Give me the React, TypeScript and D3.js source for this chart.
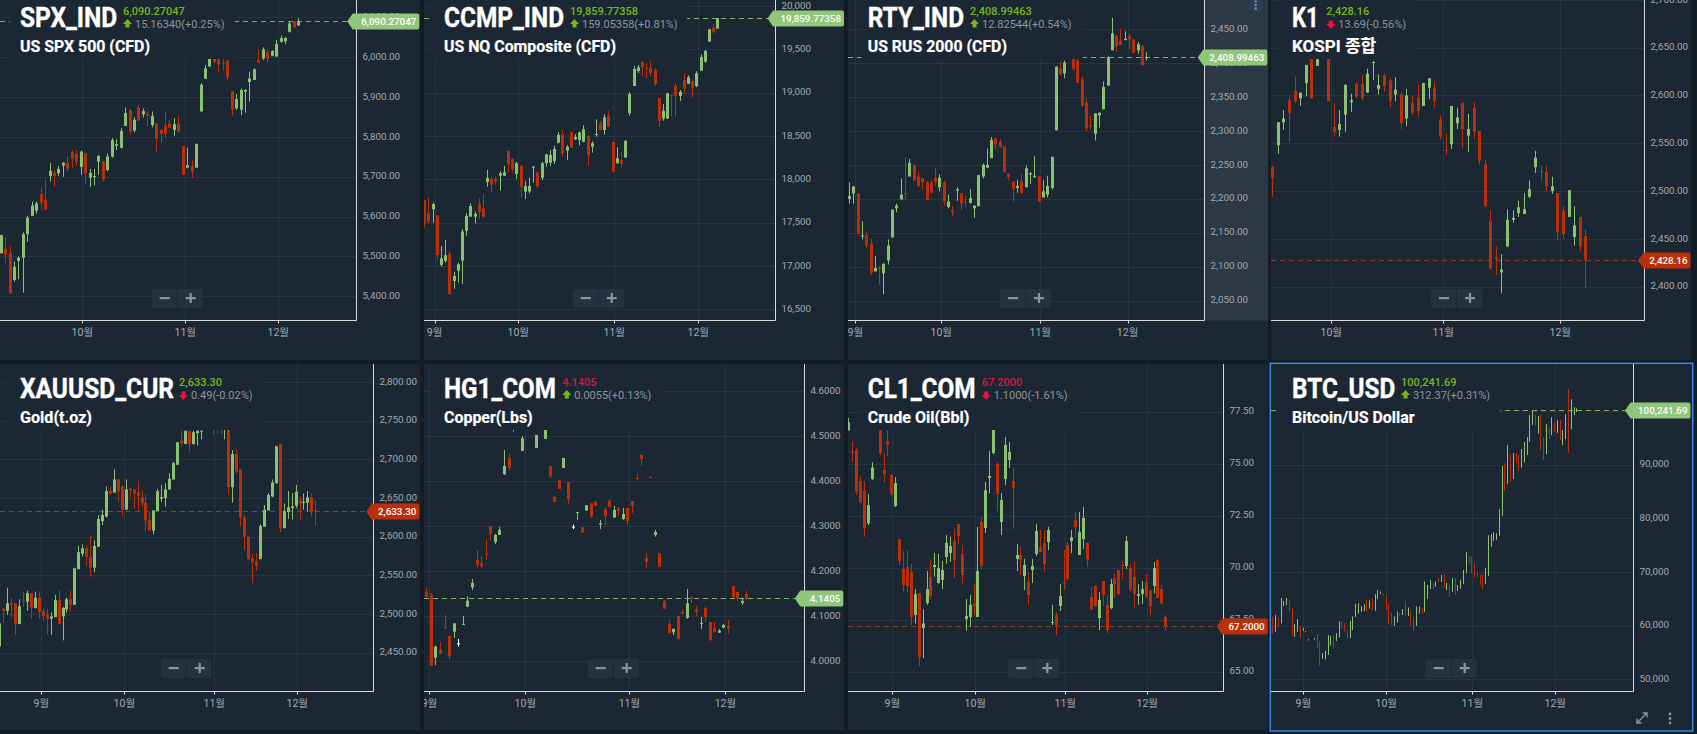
import React from "react";
import * as d3 from "d3";

type C = [number, number, number, number] | null;

// each candle: [open, high, low, close]
const spxCandles: C[] = [
[5508,5554,5508,5554],[5520,5548,5483,5504],[5508,5525,5406,5407],[5441,5487,5437,5474],[5489,5500,5443,5497],[5497,5561,5409,5556],[5556,5602,5537,5597],[5602,5638,5602,5628],[5615,5638,5607,5633],[5657,5673,5615,5635],
[5642,5692,5617,5617],[5702,5735,5688,5715],[5710,5717,5675,5702],[5709,5727,5702,5720],[5728,5737,5700,5735],[5735,5751,5713,5721],[5762,5767,5723,5746],[5758,5766,5728,5738],[5725,5766,5705,5763],[5759,5761,5682,5709],
[5698,5720,5675,5710],[5700,5720,5679,5702],[5738,5755,5705,5752],[5739,5740,5688,5694],[5717,5759,5715,5751],[5751,5797,5748,5792],[5778,5794,5767,5782],[5773,5822,5771,5815],[5828,5874,5828,5860],[5868,5869,5807,5813],
[5816,5849,5811,5843],[5874,5880,5841,5841],[5857,5872,5849,5865],[5858,5864,5826,5854],[5830,5864,5824,5853],[5834,5834,5762,5796],[5818,5818,5786,5808],[5828,5863,5799,5808],[5834,5843,5822,5823],[5818,5847,5802,5832],
[5833,5853,5812,5813],[5777,5777,5705,5705],[5723,5773,5721,5729],[5727,5742,5698,5713],[5723,5784,5723,5782],[5864,5935,5864,5931],[5946,5981,5946,5972],[5977,6012,5977,6005],[6000,6010,5985,5989],[6000,6010,5961,5982],
[5986,6005,5966,5984],[5992,5993,5943,5949],[5914,5916,5853,5868],[5872,5908,5868,5895],[5868,5922,5855,5918],[5914,5920,5861,5918],[5938,5964,5889,5947],[5943,5972,5943,5970],[5993,6021,5985,5987],[5997,6025,5993,6020],
[6013,6020,5987,5997],[6004,6018,6003,6016],[6002,6044,6002,6033],[6039,6054,6037,6048],[6040,6050,6033,6049],[6064,6090,6062,6085],[6090,6092,6073,6075],[6080,6098,6079,6090],
];

const ccmpCandles: C[] = [
[17762,17762,17442,17492],[17608,17792,17485,17512],[17654,17731,17500,17715],[17585,17588,17062,17127],[17012,17231,16992,17088],[17058,17300,17038,17123],[17138,17173,16669,16677],[16827,16935,16738,16885],[16946,17038,16808,17019],[17062,17423,16792,17396],
[17408,17608,17350,17577],[17569,17723,17569,17692],[17569,17627,17492,17600],[17712,17781,17546,17623],[17665,17831,17554,17569],[17969,18108,17915,18015],[18004,18031,17846,17938],[18004,18031,17935,17973],[18042,18092,17869,18069],[18042,18154,18038,18081],
[18327,18327,18077,18181],[18235,18242,18077,18115],[18062,18200,18004,18185],[18158,18165,17788,17908],[17858,17981,17773,17923],[17858,18019,17838,17923],[18138,18154,17962,18146],[18077,18088,17904,17915],[18019,18200,17992,18185],[18185,18288,18146,18288],
[18192,18338,18154,18281],[18212,18385,18177,18350],[18423,18546,18415,18512],[18519,18569,18262,18300],[18331,18396,18223,18373],[18546,18546,18365,18365],[18462,18519,18454,18488],[18454,18550,18392,18542],[18431,18623,18431,18577],[18500,18512,18158,18277],
[18377,18438,18308,18415],[18512,18692,18492,18523],[18646,18673,18565,18565],[18569,18750,18515,18715],[18731,18788,18608,18608],[18431,18431,18088,18088],[18185,18369,18181,18242],[18223,18315,18123,18177],[18250,18454,18250,18442],[18762,19004,18735,18985],
[19077,19308,19077,19273],[19250,19319,19227,19292],[19354,19365,19192,19292],[19285,19346,19169,19277],[19285,19365,19192,19227],[19262,19285,19077,19100],[18938,18938,18608,18677],[18700,18869,18677,18792],[18700,18992,18700,18992],[18973,18973,18723,18965],
[19077,19108,18723,18965],[18962,19031,18904,19008],[19146,19215,18985,19046],[19104,19200,19096,19177],[19131,19154,18942,19058],[19077,19246,19062,19223],[19254,19442,19254,19412],[19358,19492,19346,19481],[19588,19731,19589,19731],[19754,19792,19696,19696],[19738,19861,19738,19860],
];

const rtyCandles: C[] = [
[2200,2224,2193,2204],[2208,2219,2193,2218],[2208,2208,2146,2149],[2145,2167,2140,2146],[2147,2151,2127,2131],[2134,2141,2088,2091],[2093,2116,2093,2098],[2099,2101,2073,2097],[2090,2105,2059,2104],[2109,2140,2103,2131],
[2143,2184,2143,2184],[2186,2193,2180,2190],[2199,2230,2199,2206],[2208,2261,2199,2207],[2233,2259,2233,2253],[2250,2250,2227,2227],[2233,2240,2217,2219],[2230,2231,2214,2224],[2225,2226,2198,2198],[2224,2228,2208,2209],
[2231,2245,2219,2224],[2217,2236,2211,2231],[2224,2227,2189,2196],[2188,2206,2186,2196],[2183,2189,2174,2180],[2212,2217,2197,2214],[2208,2208,2183,2193],[2196,2204,2188,2195],[2194,2214,2193,2201],[2186,2190,2172,2190],
[2189,2235,2189,2235],[2233,2252,2230,2250],[2246,2274,2245,2250],[2260,2291,2260,2287],[2289,2290,2273,2280],[2284,2288,2276,2276],[2277,2277,2239,2239],[2237,2237,2227,2232],[2225,2226,2196,2214],[2216,2228,2209,2219],
[2226,2237,2208,2208],[2217,2249,2217,2245],[2236,2239,2222,2238],[2232,2263,2231,2234],[2233,2233,2196,2196],[2202,2228,2202,2211],[2206,2234,2202,2219],[2216,2262,2214,2262],[2301,2395,2301,2395],[2392,2403,2382,2384],
[2385,2404,2378,2401],null,[2406,2406,2390,2392],[2404,2409,2371,2371],[2376,2380,2336,2338],[2342,2347,2300,2304],[2308,2323,2303,2306],[2296,2326,2286,2326],[2323,2327,2305,2327],[2332,2373,2332,2365],
[2367,2410,2367,2409],[2419,2467,2419,2444],[2441,2442,2417,2425],[2433,2451,2427,2427],[2434,2447,2434,2436],[2440,2444,2420,2435],[2435,2436,2415,2415],[2419,2431,2414,2428],[2426,2426,2397,2397],[2408,2416,2404,2409],
];

const kospiCandles: C[] = [
[2525,2526.5,2494,2514],[2548,2572,2539,2572],[2572,2585,2564,2576],[2595,2599,2551,2582],[2605,2620,2592,2594],[2597,2603,2589,2603],[2613,2632,2599,2632],[2638,2640,2597,2597],[2631,2640,2631,2638],null,
[2638,2640,2594,2594],[2567,2592,2557,2562],[2564,2585,2557,2570],[2580,2612,2562,2611],[2593,2602,2583,2595],[2612,2614,2597,2599],[2612,2622,2595,2597],[2603,2628,2603,2623],[2634,2636,2616,2635],[2607,2622,2601,2611],
[2621,2623,2604,2610],[2616,2618,2588,2594],[2601,2619,2594,2606],[2601,2604,2565,2571],[2576,2607,2568,2600],[2592,2600,2580,2582],[2598,2612,2578,2584],[2589,2613,2589,2613],[2608,2618,2596,2618],[2608,2614,2587,2594],
[2575,2580,2554,2557],[2543,2560,2538,2542],[2549,2589,2544,2589],[2571,2587,2565,2577],[2592,2593,2545,2565],[2558,2581,2541,2565],[2587,2593,2555,2562],[2563,2563,2527,2532],[2528,2533,2483,2484],[2469,2480,2418,2419],
[2431,2442,2412,2429],[2415,2434,2393,2418],[2442,2481,2442,2470],[2470,2480,2467,2472],[2477,2490,2473,2483],[2476,2498,2476,2481],[2494,2511,2493,2502],[2525,2542,2519,2535],[2521,2527,2511,2520],[2520,2527,2499,2505],
[2500,2515,2497,2505],[2498,2498,2448,2457],[2480,2484,2450,2455],[2473,2501,2473,2501],[2452,2484,2443,2464],[2473,2473,2437,2442],[2453,2460,2399,2428.16],
];

const goldCandles: C[] = [
[2458,2497,2458,2488],[2507,2508,2488,2504],[2504,2534,2499,2514],[2514,2521,2496,2512],[2514,2514,2473,2487],[2487,2519,2487,2510],[2517,2529,2509,2516],[2516,2530,2504,2527],[2527,2527,2494,2508],[2508,2529,2507,2521],
[2521,2529,2494,2503],[2504,2507,2491,2497],[2499,2507,2474,2494],[2494,2502,2473,2497],[2496,2525,2496,2518],[2518,2531,2487,2487],[2497,2509,2466,2508],[2506,2521,2502,2519],[2519,2530,2503,2512],[2512,2560,2512,2559],
[2558,2588,2558,2580],[2578,2590,2574,2585],[2585,2588,2562,2574],[2574,2602,2548,2560],[2560,2595,2554,2588],[2587,2628,2587,2623],[2620,2635,2615,2628],[2626,2665,2625,2659],[2659,2665,2654,2656],[2657,2687,2657,2674],
[2674,2675,2645,2659],[2665,2666,2626,2635],[2635,2674,2635,2661],[2662,2663,2651,2660],[2661,2661,2636,2656],[2657,2672,2633,2653],[2651,2660,2638,2643],[2644,2655,2606,2621],[2622,2632,2608,2608],[2608,2634,2603,2634],
[2633,2662,2633,2659],[2649,2667,2645,2651],[2650,2669,2639,2661],[2661,2682,2661,2675],[2674,2697,2674,2695],[2693,2722,2693,2722],[2724,2737,2716,2721],[2720,2737,2720,2737],[2737,2737,2710,2720],[2720,2737,2719,2735],
[2734,2737,2718,2737],[2736,2737,2726,2737],null,null,[2742,2750,2732,2739],[2745,2752,2733,2740],[2745,2750,2733,2741],[2738,2748,2726,2744],[2745,2750,2654,2664],[2664,2712,2644,2707],
[2707,2712,2682,2684],[2687,2687,2613,2625],[2625,2628,2583,2600],[2600,2600,2570,2571],[2572,2578,2540,2567],[2568,2579,2556,2562],[2571,2616,2571,2614],[2613,2641,2613,2635],[2634,2656,2634,2654],[2652,2674,2651,2670],
[2669,2717,2669,2717],[2720,2720,2606,2611],[2611,2643,2611,2633],[2632,2659,2623,2638],[2637,2656,2622,2639],[2640,2667,2637,2658],[2647,2652,2622,2643],[2644,2656,2635,2645],[2644,2659,2633,2651],[2651,2656,2626,2633],[2634,2647,2614,2633.3],
];

const copperCandles: C[] = [
[4.1548,4.1644,4.1422,4.143],[4.1474,4.1519,3.9904,3.9904],[4.0081,4.0348,3.9919,4.0326],[4.0252,4.043,4.0163,4.017],[4.0763,4.103,4.0719,4.0741],[4.0563,4.0563,4.0052,4.0119],[4.0659,4.0844,4.0526,4.0844],[4.04,4.0496,4.0326,4.04],[4.0815,4.1007,4.0807,4.083],[4.1215,4.1452,4.1207,4.1348],
[4.1644,4.183,4.1585,4.1741],[4.2252,4.2474,4.2081,4.2126],[4.2178,4.2341,4.2081,4.2111],[4.2385,4.2696,4.2252,4.2363],[4.3007,4.3007,4.2696,4.283],[4.2652,4.283,4.2607,4.2807],[4.2807,4.2985,4.2807,4.2919],[4.4156,4.4696,4.4141,4.4341],[4.4519,4.463,4.4252,4.4296],[4.515,4.53,4.5104,4.525],
null,[4.4674,4.5007,4.4674,4.4956],[4.53,4.54,4.5119,4.52],null,[4.4741,4.503,4.4741,4.503],null,[4.4941,4.5141,4.4941,4.5141],[4.4341,4.4341,4.4081,4.4104],[4.3652,4.3674,4.3533,4.3541],[4.4022,4.4022,4.383,4.383],
[4.4296,4.4519,4.4296,4.4519],[4.3985,4.3985,4.3496,4.3607],[4.2993,4.3037,4.2941,4.2993],[4.3296,4.3319,4.3141,4.3319],[4.2978,4.2978,4.2859,4.2859],[4.3356,4.3474,4.3341,4.3467],[4.3511,4.3519,4.3193,4.3215],[4.3556,4.3556,4.3459,4.3459],[4.3037,4.3141,4.2941,4.3067],[4.3378,4.3407,4.303,4.323],
[4.3563,4.3607,4.3407,4.343],[4.3193,4.3452,4.3193,4.3363],[4.34,4.343,4.323,4.3341],[4.3163,4.3407,4.3141,4.3274],[4.3407,4.3407,4.303,4.3119],[4.3563,4.3563,4.3296,4.3452],[4.4074,4.4163,4.403,4.4052],[4.4585,4.4585,4.4341,4.4496],[4.2296,4.2407,4.2074,4.2207],[4.4096,4.4119,4.4074,4.4081],
[4.2807,4.2919,4.277,4.2874],[4.2407,4.2407,4.2096,4.2096],[4.1341,4.1363,4.1163,4.117],[4.083,4.0919,4.0607,4.063],[4.0644,4.0726,4.0585,4.0719],[4.1007,4.1007,4.0474,4.0496],[4.1096,4.1163,4.103,4.1052],[4.0963,4.1607,4.0941,4.1289],[4.1422,4.1452,4.1296,4.1407],[4.1163,4.123,4.1007,4.1096],
[4.0837,4.0985,4.0719,4.0852],[4.1185,4.123,4.0874,4.0985],[4.0874,4.0874,4.0452,4.0474],[4.0741,4.0874,4.063,4.0652],[4.0637,4.0719,4.063,4.0681],[4.0748,4.083,4.0741,4.0807],[4.0785,4.0919,4.0607,4.0741],[4.1674,4.1674,4.1407,4.143],[4.1541,4.1541,4.1341,4.1407],[4.1296,4.1407,4.1252,4.1341],[4.1496,4.1563,4.1363,4.1385],
];

const crudeCandles: C[] = [
[76.6,77.2,76.6,77.0],[75.58,76.06,75.10,75.53],[75.66,75.75,73.49,73.65],[74.17,74.41,73.09,73.14],[73.69,74.17,71.49,71.92],[72.13,73.54,72.05,73.01],[74.26,75.06,74.21,74.82],null,[76.62,76.8,75.42,75.5],[74.70,75.51,74.09,74.50],
[76.09,76.7,75.37,75.90],[74.46,74.50,73.41,73.54],[72.96,74.36,72.93,74.07],[71.38,71.38,70.13,70.32],[69.94,70.80,68.85,69.17],[70.03,70.85,68.80,69.12],[69.79,70.18,67.24,67.63],[67.72,68.97,67.32,68.73],[68.78,68.78,65.27,65.71],[67.10,68.01,65.66,67.32],
[68.30,69.84,68.21,68.97],[69.55,70.37,68.49,68.64],[70.03,70.71,69.57,70.13],[69.26,70.66,69.25,69.98],[69.41,70.32,68.97,69.89],[70.51,71.57,70.18,71.19],[70.71,71.49,70.29,71.04],[71.28,71.86,69.50,70.37],[72.10,72.10,71.14,71.52],[70.66,71.09,69.26,69.65],
[67.53,68.49,66.97,67.68],[67.63,68.69,67.15,68.21],[68.25,69.21,67.72,68.16],[67.63,71.96,67.63,69.84],[72.20,72.42,69.89,70.08],[71.91,74.12,71.67,73.73],[74.31,75.61,73.57,74.41],[75.51,76.8,75.46,76.62],[74.98,75.08,72.72,73.54],[72.20,73.59,71.57,73.25],
[74.26,76.28,73.97,75.90],[75.18,76.04,74.79,75.56],[74.17,74.79,71.86,73.83],[70.42,71.14,69.84,70.61],[70.61,71.01,69.65,70.37],[69.60,70.42,68.93,70.13],[69.31,69.79,68.21,68.69],[69.89,70.42,69.26,70.08],[70.66,72.10,70.56,71.76],[70.99,71.81,70.75,70.75],
[71.19,71.81,69.79,70.18],[71.23,71.96,70.85,71.81],[67.34,68.21,67.24,67.39],[67.72,67.87,66.76,67.24],[68.16,69.21,67.92,68.64],[69.26,70.85,68.93,69.21],[71.09,71.23,69.41,69.46],[71.28,71.81,70.71,71.47],[72.29,72.68,71.46,71.96],[70.61,72.68,70.61,71.71],
[71.38,72.92,70.90,72.39],[71.19,71.23,70.03,70.37],[68.59,69.07,67.96,68.01],[69.12,69.17,68.11,68.16],[67.58,68.83,67.0,68.45],[69.36,69.36,68.16,68.69],[68.21,68.64,66.86,67.0],[68.06,69.46,68.01,69.21],[69.50,69.70,68.54,69.21],[69.89,69.89,68.69,68.73],
[70.13,70.32,69.46,70.08],[70.08,71.52,69.94,71.28],[69.98,70.18,68.83,68.93],[69.55,70.32,68.06,68.73],[68.64,69.21,68.21,68.73],[68.73,69.36,68.25,68.97],[69.31,69.70,68.54,68.59],[68.88,68.97,67.72,68.16],[69.12,70.27,68.77,69.98],[70.37,70.42,68.54,68.54],[68.97,69.17,68.21,68.30],[67.63,67.72,67.0,67.20],
];

const btcCandles: C[] = [
[61679,61679,58574,58574],[58884,61989,58884,61989],[61554,61554,59816,59816],[60437,65156,60437,65156],[63666,64597,63666,64597],[63852,65156,63852,65156],[64659,64659,62734,62734],[63231,63231,58077,58077],[57953,60250,57953,60250],[58884,61182,58884,61182],
[59940,59940,57767,57767],[59070,59567,59070,59567],[58822,59008,58822,59008],[57332,57456,57332,57456],[59195,59195,59008,59008],[57456,57704,57456,57704],[58387,58387,55717,55717],[57145,57145,52550,52550],[53792,54848,53792,54848],[53730,55283,53730,55283],
[54537,58263,54537,58263],[56338,58077,56338,58077],[58263,58263,55717,55717],[57207,58574,57207,58574],[57829,60747,57829,60747],[60747,60747,59505,59505],[60437,60437,58884,58884],[59195,59195,57580,57580],[57704,60871,57704,60871],[59195,61679,59195,61679],
[61679,64038,61679,64038],[62300,64162,62300,64162],[62610,63666,62610,63666],[62796,63976,62796,63976],[64783,64783,62610,62610],[63231,64659,63231,64659],[64970,64970,62920,62920],[62796,65901,62796,65901],[64970,66647,64970,66647],[65901,66336,65901,66336],
[66026,66026,65591,65591],[65715,65715,62920,62920],[64162,64162,60312,60312],[62424,62424,60126,60126],[60001,61679,60001,61679],[60623,62610,60623,62610],[62300,62300,61803,61803],[61989,63045,61989,63045],[64535,64535,61989,61989],[61803,63355,61803,63355],
[62610,62610,60126,60126],[61554,61554,59070,59070],[60001,63541,60001,63541],[62300,63541,62300,63541],[63355,63355,62176,62176],[62610,68199,62610,68199],[64970,67578,64970,67578],[66833,68509,66833,68509],[67889,67889,66833,66833],[67268,68199,67268,68199],
[68820,68820,68199,68199],[68199,69441,68199,69441],[69627,69627,67081,67081],[66647,67889,66647,67889],[67578,67578,65405,65405],[66336,68820,66336,68820],[68820,68820,65715,65715],[66460,67578,66460,67578],[66957,68509,66957,68509],[67765,70373,67765,70373],
[69876,73726,69876,73726],[72857,72857,71490,71490],[72857,72857,69752,69752],[71615,71615,69006,69006],[69938,69938,69131,69131],[69441,69441,67703,67703],[69627,69627,66833,66833],[67765,70683,67765,70683],[69255,76831,69255,76831],[74720,77079,74720,77079],
[75837,77390,75837,77390],[75962,77204,75962,77204],[76769,81737,76769,81737],[80495,89748,80495,89748],[90245,90245,85152,85152],[86394,93660,86394,93660],[91983,91983,86829,86829],[87387,92107,87387,92107],[92107,92107,90369,90369],[91797,91797,88878,88878],
[89499,92853,89499,92853],[90431,94219,90431,94219],[91797,95088,91797,95088],[94281,99249,94281,99249],[97386,99994,97386,99994],[99249,99249,97386,97386],[95834,99063,95834,99063],[99249,99249,92729,92729],[95088,95088,90866,90866],[91983,97572,91983,97572],
[96765,96765,94778,94778],[95523,98814,95523,98814],[98007,98007,96144,96144],[95958,98318,95958,98318],[98318,98318,94592,94592],[93660,96455,93660,96455],[94778,99435,94778,99435],[104093,104093,92232,92232],[96641,102168,96641,102168],[99249,100677,99249,100677],[99870,100491,99870,100491],
];

const spxTicks = [5400,5500,5600,5700,5800,5900,6000,6100];
const ccmpTicks = [16500,17000,17500,18000,18500,19000,19500,20000];
const rtyTicks = [2050,2100,2150,2200,2250,2300,2350,2400,2450];
const kospiTicks = [2400,2450,2500,2550,2600,2650,2700];
const goldTicks = [2450,2500,2550,2600,2650,2700,2750,2800];
const copperTicks = [4.0,4.1,4.2,4.3,4.4,4.5,4.6];
const crudeTicks = [65,67.5,70,72.5,75,77.5];
const btcTicks = [50000,60000,70000,80000,90000,100000];

const GREEN = "#8cc174";
const RED = "#b92f0a";

interface P {
  sym: string; sub: string; val: string; chg: string; up: boolean; valColor: string;
  last: number; lastUp: boolean; lastText: string;
  data: C[]; ticks: number[]; dec: number; grp: boolean;
  left: number; right: number; top: number; bottom: number; axisX: number; axisY: number;
  x0: number; x1: number; yA: [number, number]; yB: [number, number];
  months: [string, number][];
  tx: number; tw: number; sw: number; vx: number; bx: number; bx1: number; zx: number; bw: number;
  tagRight: number; tagW: number;
}

const VG = "#7ab51d", VR = "#d8153c";
const T = 0, B = 364, PB = 360, PB2 = 730;
const panels: P[] = [
  { sym:"SPX_IND", sub:"US SPX 500 (CFD)", val:"6,090.27047", chg:"15.16340(+0.25%)", up:true, valColor:VG, last:6090.27, lastUp:true, lastText:"6,090.27047", data:spxCandles, ticks:spxTicks, dec:2, grp:true,
    left:0,right:420,top:T,bottom:PB,axisX:356.5,axisY:320.5,x0:0.7,x1:298.3,yA:[6000,57.3],yB:[5400,296.3],months:[["10월",18.38],["11월",41.56],["12월",62.5]],
    tx:20,tw:97.3,sw:130,vx:123,bx:10,bx1:235,zx:151.7,bw:3,tagRight:419.3,tagW:66.6 },
  { sym:"CCMP_IND", sub:"US NQ Composite (CFD)", val:"19,859.77358", chg:"159.05358(+0.81%)", up:true, valColor:VG, last:19859.77, lastUp:true, lastText:"19,859.77358", data:ccmpCandles, ticks:ccmpTicks, dec:0, grp:true,
    left:424,right:844,top:T,bottom:PB,axisX:775.5,axisY:320.5,x0:424.3,x1:717.3,yA:[18000,179.3],yB:[16500,309.3],months:[["9월",2.47],["10월",22.46],["11월",45.39],["12월",65.46]],
    tx:444,tw:120,sw:172,vx:570,bx:429,bx1:687,zx:572.7,bw:3,tagRight:844,tagW:71 },
  { sym:"RTY_IND", sub:"US RUS 2000 (CFD)", val:"2,408.99463", chg:"12.82544(+0.54%)", up:true, valColor:VG, last:2408.99, lastUp:true, lastText:"2,408.99463", data:rtyCandles, ticks:rtyTicks, dec:2, grp:true,
    left:848,right:1268,top:T,bottom:PB,axisX:1204.5,axisY:320.5,x0:849,x1:1146.3,yA:[2450,29.3],yB:[2050,300.5],months:[["9월",1.47],["10월",21.42],["11월",44.39],["12월",64.66]],
    tx:867.7,tw:96.3,sw:139.3,vx:970,bx:861.7,bx1:1083,zx:1000,bw:3,tagRight:1267.3,tagW:64 },
  { sym:"K1", sub:"KOSPI 종합", val:"2,428.16", chg:"13.69(-0.56%)", up:false, valColor:VG, last:2428.16, lastUp:false, lastText:"2,428.16", data:kospiCandles, ticks:kospiTicks, dec:2, grp:true,
    left:1271,right:1691,top:T,bottom:PB,axisX:1644.5,axisY:320.5,x0:1272.3,x1:1585.3,yA:[2650,47.7],yB:[2400,286.7],months:[["10월",10.55],["11월",30.59],["12월",51.52]],
    tx:1292,tw:26.7,sw:84.3,vx:1326.3,bx:1278,bx1:1417,zx:1431,bw:3,tagRight:1690.5,tagW:47 },
  { sym:"XAUUSD_CUR", sub:"Gold(t.oz)", val:"2,633.30", chg:"0.49(-0.02%)", up:false, valColor:VG, last:2633.3, lastUp:false, lastText:"2,633.30", data:goldCandles, ticks:goldTicks, dec:2, grp:true,
    left:0,right:420,top:B,bottom:PB2,axisX:373.5,axisY:691.5,x0:-0.7,x1:315.3,yA:[2750,420.7],yB:[2450,652.7],months:[["9월",10.63],["10월",31.65],["11월",54.43],["12월",75.44]],
    tx:20,tw:154,sw:72,vx:179,bx:6,bx1:265,zx:160.7,bw:3,tagRight:419.3,tagW:47.6 },
  { sym:"HG1_COM", sub:"Copper(Lbs)", val:"4.1405", chg:"0.0055(+0.13%)", up:true, valColor:VR, last:4.1405, lastUp:true, lastText:"4.1405", data:copperCandles, ticks:copperTicks, dec:4, grp:false,
    left:424,right:844,top:B,bottom:PB2,axisX:804.5,axisY:691.5,x0:426.3,x1:746.3,yA:[4.5,436.3],yB:[4.0,661.3],months:[["9월",0.66],["10월",21.66],["11월",44.42],["12월",65.43]],
    tx:444,tw:112,sw:88.7,vx:562.3,bx:430,bx1:662,zx:587.7,bw:3,tagRight:843.3,tagW:43 },
  { sym:"CL1_COM", sub:"Crude Oil(Bbl)", val:"67.2000", chg:"1.1000(-1.61%)", up:false, valColor:VR, last:67.2, lastUp:false, lastText:"67.2000", data:crudeCandles, ticks:crudeTicks, dec:2, grp:false,
    left:848,right:1268,top:B,bottom:PB2,axisX:1223.5,axisY:691.5,x0:848.3,x1:1165.3,yA:[77.5,411.7],yB:[65,671.7],months:[["9월",11.24],["10월",32.45],["11월",55.45],["12월",76.4]],
    tx:867.7,tw:108,sw:101.7,vx:981.7,bx:861,bx1:1078,zx:1008.3,bw:3,tagRight:1267.7,tagW:45.4 },
  { sym:"BTC_USD", sub:"Bitcoin/US Dollar", val:"100,241.69", chg:"312.37(+0.31%)", up:true, valColor:VG, last:100241.69, lastUp:true, lastText:"100,241.69", data:btcCandles, ticks:btcTicks, dec:0, grp:true,
    left:1271,right:1692,top:B,bottom:PB2,axisX:1633.5,axisY:691.5,x0:1272.3,x1:1576.3,yA:[90000,464.7],yB:[50000,679.3],months:[["9월",11.22],["10월",41.25],["11월",72.38],["12월",102.4]],
    tx:1292,tw:103.3,sw:122.7,vx:1401,bx:1276,bx1:1500,zx:1425.7,bw:1,tagRight:1690.5,tagW:60 },
];

const FONT = "Roboto, 'Noto Sans CJK KR', sans-serif";
const BG = "#1b2834";
const GRID = "#253542";

function Panel({ p, idx }: { p: P; idx: number }) {
  const clipId = `clip-${idx}`;
  const clipFull = `clipf-${idx}`;
  const x = d3.scaleLinear().domain([0, p.data.length - 1]).range([p.x0, p.x1]);
  const y = d3.scaleLinear().domain([p.yA[0], p.yB[0]]).range([p.yA[1], p.yB[1]]);
  const fmt = d3.format((p.grp ? "," : "") + "." + p.dec + "f");
  const ly = Math.round(y(p.last));
  const tagColor = p.lastUp ? "#90c67a" : "#b9300a";
  const dashColor = p.lastUp ? "#7fae68" : "#8e3a26";
  const tagLeft = p.tagRight - p.tagW;
  const isBottom = p.top === B;
  const bh = isBottom ? 430 : 59;
  const titleY = p.top + (isBottom ? 33.7 : 26.7);
  const subY = p.top + (isBottom ? 58.7 : 51.7);
  const valY = p.top + (isBottom ? 22 : 14.7);
  const chgY = p.top + (isBottom ? 35 : 28);
  const arrow = (cx: number, cy: number, up: boolean) => {
    const s = up ? -1 : 1;
    return `M${cx - 4.5},${cy} L${cx},${cy + s * 5} L${cx + 4.5},${cy} L${cx + 2},${cy} L${cx + 2},${cy - s * 3.5} L${cx - 2},${cy - s * 3.5} L${cx - 2},${cy} Z`;
  };
  const zy = isBottom ? 659 : 289;
  return (
    <g>
      <defs>
        <clipPath id={clipId}><rect x={p.left} y={p.top} width={p.axisX - p.left} height={p.axisY - p.top} /></clipPath>
        <clipPath id={clipFull}><rect x={p.left} y={p.top} width={p.right - p.left} height={p.bottom - p.top} /></clipPath>
      </defs>
      <rect x={p.left} y={p.top} width={p.right - p.left} height={p.bottom - p.top} fill={BG} />
      {p.sym === "RTY_IND" && <rect x={p.axisX} y={p.top} width={p.right - p.axisX} height={p.axisY - p.top} fill="#2c3945" />}
      <g clipPath={`url(#${clipId})`}>
        {p.ticks.map((t) => <line key={t} x1={p.left} x2={p.axisX} y1={Math.round(y(t)) + 0.5} y2={Math.round(y(t)) + 0.5} stroke={GRID} />)}
        {p.months.map(([m, s]) => <line key={m} x1={Math.round(x(s)) + 0.5} x2={Math.round(x(s)) + 0.5} y1={p.top} y2={p.axisY} stroke={GRID} />)}
        <line x1={p.left} x2={p.axisX} y1={ly + 0.5} y2={ly + 0.5} stroke={dashColor} strokeDasharray="5 4" />
        {p.data.map((c, i) => {
          if (!c) return null;
          const [o, h, l, cl] = c;
          const color = o === cl ? "#ffffff" : cl > o ? GREEN : RED;
          const cx = Math.round(x(i));
          const yh = y(h), yl = y(l);
          const top = Math.min(y(o), y(cl));
          const hgt = Math.max(1, Math.abs(y(o) - y(cl)));
          return (
            <g key={i}>
              <rect x={cx} y={yh} width={1} height={Math.max(1, yl - yh)} fill={color} />
              <rect x={cx - (p.bw - 1) / 2} y={top} width={p.bw} height={hgt} fill={color} />
            </g>
          );
        })}
      </g>
      <rect x={p.bx} y={p.top} width={p.bx1 - p.bx} height={bh - p.top} fill={BG} />
      {p.sym === "RTY_IND" && <g fill="#7f8b96"><circle cx={1255.7} cy={5} r={7} fill="#2a3f57" /><circle cx={1255.7} cy={1.5} r={1.2} /><circle cx={1255.7} cy={5} r={1.2} /><circle cx={1255.7} cy={8.5} r={1.2} /></g>}
      <line x1={p.axisX} x2={p.axisX} y1={p.top} y2={p.axisY} stroke="#d9d9d9" />
      <line x1={p.left} x2={p.axisX} y1={p.axisY} y2={p.axisY} stroke="#d9d9d9" />
      {p.ticks.map((t) => (
        <text key={t} x={p.axisX + 6} y={y(t) + 2.6} fontFamily={FONT} fontSize={9.8} fill="#a3a8ad">{fmt(t)}</text>
      ))}
      <g clipPath={`url(#${clipFull})`}>
        {p.months.map(([m, s]) => (
          <g key={m}>
            <line x1={Math.round(x(s)) + 0.5} x2={Math.round(x(s)) + 0.5} y1={p.axisY} y2={p.axisY + 3} stroke="#d9d9d9" />
            <text x={x(s)} y={p.axisY + 15} textAnchor="middle" fontFamily={FONT} fontSize={10.5} fill="#a3a8ad">{m}</text>
          </g>
        ))}
      </g>
      <text x={p.tx} y={titleY} fontFamily={FONT} fontWeight={700} fontSize={27} fill="#ffffff" stroke="#ffffff" strokeWidth={0.35} textLength={p.tw} lengthAdjust="spacingAndGlyphs">{p.sym}</text>
      <text x={p.tx} y={subY} fontFamily={FONT} fontWeight={700} fontSize={17} fill="#ffffff" stroke="#ffffff" strokeWidth={0.2} textLength={p.sw} lengthAdjust="spacingAndGlyphs">{p.sub}</text>
      <text x={p.vx} y={valY} fontFamily={FONT} fontWeight={500} fontSize={11} fill={p.valColor}>{p.val}</text>
      <path d={arrow(p.vx + 4.5, chgY - 4, p.up)} fill={p.up ? VG : "#f01040"} />
      <text x={p.vx + 12} y={chgY} fontFamily={FONT} fontSize={11} fill="#8d949a">{p.chg}</text>
      <path d={`M${tagLeft - 5.5},${ly + 0.5} L${tagLeft},${ly - 7.5} L${p.tagRight - 2},${ly - 7.5} Q${p.tagRight},${ly - 7.5} ${p.tagRight},${ly - 5.5} L${p.tagRight},${ly + 6.5} Q${p.tagRight},${ly + 8.5} ${p.tagRight - 2},${ly + 8.5} L${tagLeft},${ly + 8.5} Z`} fill={tagColor} />
      <text x={p.tagRight - 3} y={ly + 4} textAnchor="end" fontFamily={FONT} fontWeight={500} fontSize={9.8} fill="#ffffff">{p.lastText}</text>
      <rect x={p.zx} y={zy} width={51} height={19} rx={2} fill="#243240" />
      <line x1={p.zx + 25.5} x2={p.zx + 25.5} y1={zy} y2={zy + 19} stroke={BG} />
      <rect x={p.zx + 8} y={zy + 8} width={10} height={2.2} fill="#8d949a" />
      <rect x={p.zx + 34} y={zy + 8} width={10} height={2.2} fill="#8d949a" />
      <rect x={p.zx + 37.9} y={zy + 4} width={2.2} height={10} fill="#8d949a" />
    </g>
  );
}

export default function App() {
  return (
    <svg width={1697} height={734} style={{ position: "absolute", left: 0, top: 0, display: "block" }}>
      <rect width={1697} height={734} fill="#141d25" />
      {panels.map((p, i) => <Panel key={p.sym} p={p} idx={i} />)}
      <rect x={1270.3} y={363.3} width={422.4} height={367.7} fill="none" stroke="#3a87e6" strokeWidth={1.5} />
      <g stroke="#8d949a" strokeWidth={1.4} fill="none">
        <path d="M1637,723 L1647,713 M1637,718.5 L1637,723 L1641.5,723 M1642.5,713 L1647,713 L1647,717.5" />
      </g>
      <g fill="#8d949a">
        <circle cx={1670} cy={714} r={1.4} /><circle cx={1670} cy={718.5} r={1.4} /><circle cx={1670} cy={723} r={1.4} />
      </g>
    </svg>
  );
}
